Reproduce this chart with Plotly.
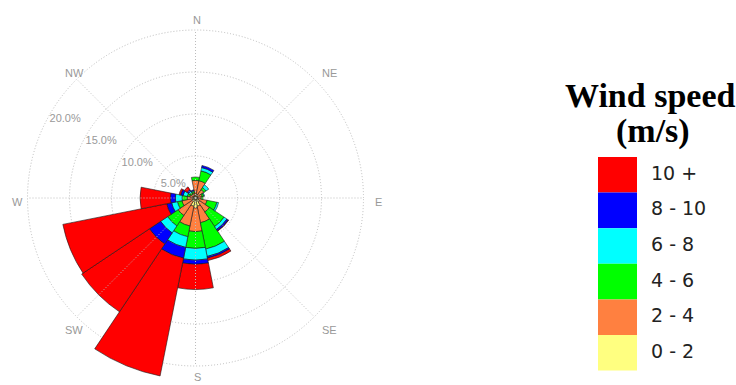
import math
import plotly.graph_objects as go

# Wind direction sectors (16 points of the compass, clockwise from north)
directions = ["N", "NNE", "NE", "ENE", "E", "ESE", "SE", "SSE",
              "S", "SSW", "SW", "WSW", "W", "WNW", "NW", "NNW"]
sector_width = 360 / len(directions)
sector_angles = [i * sector_width for i in range(len(directions))]

# Frequency (%) of each speed class per direction sector
speed_bins = ["0 - 2", "2 - 4", "4 - 6", "6 - 8", "8 - 10", "10 +"]
freq_0_2 = [0.5, 0.5, 0.4, 0.3, 0.3, 0.4, 0.6, 1.0, 1.2, 1.0, 0.5, 0.4, 0.4, 0.3, 0.3, 0.3]
freq_2_4 = [1.6, 1.6, 0.8, 0.5, 0.4, 1.0, 1.4, 2.0, 2.8, 2.4, 2.0, 1.25, 0.6, 0.4, 0.3, 0.3]
freq_4_6 = [0.4, 1.2, 0.3, 0.2, 0.2, 1.2, 2.1, 3.2, 2.0, 1.3, 1.5, 0.55, 0.6, 0.3, 0.2, 0.2]
freq_6_8 = [0.0, 0.4, 0.4, 0.1, 0.0, 0.2, 0.4, 0.9, 1.4, 1.3, 1.0, 0.7, 0.8, 0.5, 0.2, 0.1]
freq_8_10 = [0.0, 0.25, 0.0, 0.0, 0.0, 0.0, 0.2, 0.2, 0.5, 1.3, 1.6, 0.6, 0.6, 0.3, 0.2, 0.1]
freq_10_up = [0.0, 0.0, 0.0, 0.0, 0.0, 0.0, 0.05, 0.3, 3.0, 14.3, 9.7, 12.6, 3.6, 0.2, 0.4, 0.0]
freq_by_bin = [freq_0_2, freq_2_4, freq_4_6, freq_6_8, freq_8_10, freq_10_up]
bin_colors = ["#FFFF80", "#FF8040", "#00FF00", "#00FFFF", "#0000FF", "#FF0000"]

# Percentage rings and compass labels
ring_values = [5, 10, 15, 20]
ring_labels = ["5.0%", "10.0%", "15.0%", "20.0%"]
compass_labels = ["N", "NE", "E", "SE", "S", "SW", "W", "NW"]
compass_angles = [0, 45, 90, 135, 180, 225, 270, 315]

R_MAX = 22.0
PX_PER_PCT = 8.4
GRID = "#bcbcbc"
DOTS = "1px,2px"
LABEL_GREY = "#999999"

W, H = 736, 385
cx, cy = 195.5, 198.0
rad = R_MAX * PX_PER_PCT

fig = go.Figure()

# Dotted spokes through the centre
spoke_r, spoke_t = [], []
for a in compass_angles:
    spoke_r += [0, ring_values[-1], None]
    spoke_t += [a, a, None]
fig.add_trace(go.Scatterpolar(
    r=spoke_r, theta=spoke_t, mode="lines",
    line=dict(color=GRID, width=1, dash=DOTS),
    hoverinfo="skip", showlegend=False, connectgaps=False,
))

# Stacked wind-rose bars, calmest class innermost
for name, values, color in zip(speed_bins, freq_by_bin, bin_colors):
    fig.add_trace(go.Barpolar(
        r=values, theta=sector_angles, width=[sector_width] * len(values),
        name=name, marker=dict(color=color, line=dict(color="#1a1a1a", width=0.6)),
        showlegend=False,
    ))

# Ring percentage labels along the WNW bearing
fig.add_trace(go.Scatterpolar(
    r=[v - 1.9 for v in ring_values], theta=[301] * len(ring_values),
    mode="text", text=ring_labels,
    textfont=dict(family="Liberation Sans, Arial", size=11, color=LABEL_GREY),
    hoverinfo="skip", showlegend=False, cliponaxis=False,
))

fig.update_layout(
    width=W, height=H,
    margin=dict(l=0, r=0, t=0, b=0),
    paper_bgcolor="white",
    polar=dict(
        domain=dict(x=[(cx - rad) / W, (cx + rad) / W],
                    y=[1 - (cy + rad) / H, 1 - (cy - rad) / H]),
        bgcolor="white",
        barmode="stack",
        bargap=0,
        radialaxis=dict(range=[0, R_MAX], tickvals=ring_values, showticklabels=False,
                        ticks="", showline=False, showgrid=True, gridcolor=GRID,
                        gridwidth=1, griddash=DOTS, layer="below traces"),
        angularaxis=dict(rotation=90, direction="clockwise", showgrid=False,
                         showticklabels=False, ticks="", showline=False,
                         layer="below traces"),
    ),
)

# Compass point labels just outside the 20 % ring, text starting at the bearing point
label_r = 21.6 * PX_PER_PCT
for name, ang in zip(compass_labels, compass_angles):
    t = math.radians(ang)
    px = cx + label_r * math.sin(t) - 4
    py = min(cy - label_r * math.cos(t) + 3.5, H - 8)  # keep the bottom label on the page
    fig.add_annotation(x=px / W, y=1 - py / H, xref="paper", yref="paper",
                       text=name, showarrow=False, xanchor="left", yanchor="middle",
                       font=dict(family="Liberation Sans, Arial", size=11, color=LABEL_GREY))

# Speed-class key: title, colour boxes and labels
fig.add_annotation(x=650 / W, y=1 - 96 / H, xref="paper", yref="paper",
                   text="<b>Wind speed</b>", showarrow=False,
                   font=dict(family="Liberation Serif, Times New Roman", size=34, color="black"),
                   xanchor="center", yanchor="middle")
fig.add_annotation(x=653 / W, y=1 - 131 / H, xref="paper", yref="paper",
                   text="<b>(m/s)</b>", showarrow=False,
                   font=dict(family="Liberation Serif, Times New Roman", size=34, color="black"),
                   xanchor="center", yanchor="middle")

box_x0, box_x1 = 598, 637
box_top, box_h = 157, 35.6
for i, (name, color) in enumerate(zip(reversed(speed_bins), reversed(bin_colors))):
    y0 = box_top + i * box_h
    fig.add_shape(type="rect", xref="paper", yref="paper",
                  x0=box_x0 / W, x1=box_x1 / W,
                  y0=1 - (y0 + box_h) / H, y1=1 - y0 / H,
                  fillcolor=color, line=dict(width=0), layer="above")
    fig.add_annotation(x=649 / W, y=1 - (y0 + box_h / 2 - 2) / H, xref="paper", yref="paper",
                       text=name, showarrow=False, xanchor="left", yanchor="middle",
                       font=dict(family="DejaVu Sans", size=19, color="#222222"))

fig.write_html("out.html")
